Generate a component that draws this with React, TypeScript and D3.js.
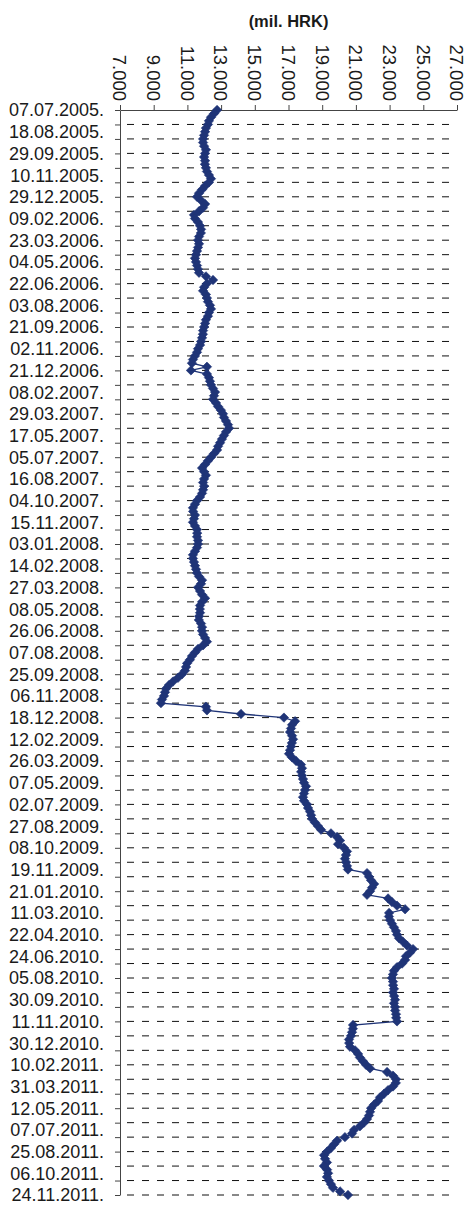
import React, { useRef, useEffect } from 'react';
import * as d3 from 'd3';

// every 6th auction date is labelled on the category axis
const dateLabels = [
  '07.07.2005.', '18.08.2005.', '29.09.2005.', '10.11.2005.', '29.12.2005.', '09.02.2006.',
  '23.03.2006.', '04.05.2006.', '22.06.2006.', '03.08.2006.', '21.09.2006.', '02.11.2006.',
  '21.12.2006.', '08.02.2007.', '29.03.2007.', '17.05.2007.', '05.07.2007.', '16.08.2007.',
  '04.10.2007.', '15.11.2007.', '03.01.2008.', '14.02.2008.', '27.03.2008.', '08.05.2008.',
  '26.06.2008.', '07.08.2008.', '25.09.2008.', '06.11.2008.', '18.12.2008.', '12.02.2009.',
  '26.03.2009.', '07.05.2009.', '02.07.2009.', '27.08.2009.', '08.10.2009.', '19.11.2009.',
  '21.01.2010.', '11.03.2010.', '22.04.2010.', '24.06.2010.', '05.08.2010.', '30.09.2010.',
  '11.11.2010.', '30.12.2010.', '10.02.2011.', '31.03.2011.', '12.05.2011.', '07.07.2011.',
  '25.08.2011.', '06.10.2011.', '24.11.2011.',
];
const labelEvery = 6;
const gridEvery = 4;

// mil. HRK, one value per auction
const values = [
  12760, 12580, 12400, 12280, 12220, 12100, 12050, 11990, 11930, 11930,
  11990, 12100, 12050, 11990, 12050, 12040, 12100, 12160, 12280, 12400,
  12280, 12050, 11870, 11690, 11570, 11810, 12050, 11930, 11690, 11390,
  11450, 11630, 11750, 11810, 11800, 11690, 11630, 11690, 11630, 11570,
  11510, 11450, 11510, 11570, 11630, 11690, 12100, 12520, 12160, 11990,
  11930, 12100, 12160, 12220, 12340, 12400, 12280, 12220, 12100, 12050,
  11990, 11930, 11920, 11870, 11810, 11750, 11630, 11570, 11450, 11330,
  11270, 12160, 11210, 12160, 12280, 12340, 12400, 12520, 12640, 12580,
  12520, 12700, 12820, 12990, 13110, 13170, 13290, 13410, 13470, 13290,
  13170, 13050, 12940, 12820, 12760, 12580, 12400, 12220, 12050, 11870,
  11990, 12100, 11990, 11930, 11990, 11930, 11870, 11750, 11570, 11450,
  11330, 11340, 11450, 11390, 11330, 11450, 11570, 11580, 11570, 11630,
  11630, 11570, 11450, 11330, 11330, 11390, 11450, 11510, 11570, 11690,
  11870, 11810, 11630, 11750, 11870, 12050, 11870, 11750, 11740, 11750,
  11690, 11680, 11810, 11870, 11860, 11930, 12050, 12160, 11930, 11630,
  11450, 11270, 11150, 10980, 10920, 10860, 10680, 10440, 10150, 9910,
  9730, 9670, 9610, 9490, 9430, 12100, 12160, 14180, 16730, 17390,
  17210, 17150, 17090, 17210, 17270, 17200, 17150, 17090, 17030, 17210,
  17450, 17740, 17800, 17750, 17800, 17860, 17920, 18040, 17980, 17920,
  17860, 17920, 18100, 18160, 18280, 18340, 18400, 18570, 18750, 18930,
  19520, 19880, 20060, 19940, 20290, 20470, 20410, 20350, 20420, 20470,
  20530, 21660, 21780, 21900, 22080, 21960, 21840, 21660, 22910, 23140,
  23440, 23920, 22970, 22960, 23030, 23140, 23260, 23380, 23440, 23560,
  23800, 24030, 24390, 24210, 23970, 23920, 23740, 23440, 23260, 23200,
  23140, 23200, 23210, 23260, 23200, 23270, 23320, 23260, 23320, 23330,
  23380, 23390, 23440, 20830, 20820, 20770, 20710, 20590, 20600, 20650,
  20950, 21130, 21240, 21420, 21600, 21840, 22850, 23200, 23380, 23370,
  23200, 22910, 22670, 22430, 22310, 22080, 21900, 21840, 21780, 21660,
  21480, 21240, 20890, 20770, 20350, 19880, 19700, 19520, 19290, 19110,
  19170, 19280, 19100, 19290, 19350, 19280, 19400, 19520, 19640, 20060,
  20530,
];

const xTicks = [7000, 9000, 11000, 13000, 15000, 17000, 19000, 21000, 23000, 25000, 27000];
const title = '(mil. HRK)';

const hr = d3.formatLocale({ decimal: ',', thousands: '.', grouping: [3], currency: ['', ''] });
const fmt = hr.format(',');

const App = () => {
  const ref = useRef<SVGSVGElement>(null);

  useEffect(() => {
    document.body.style.margin = '0';
    const svg = d3.select(ref.current);
    svg.selectAll('*').remove();

    const width = 475;
    const height = 1210;
    const margin = { top: 110, right: 18, bottom: 15, left: 120 };
    const font = '"Liberation Sans", Arial, sans-serif';
    const navy = '#1f3477';

    const x = d3.scaleLinear().domain([7000, 27000]).range([margin.left, width - margin.right]);
    const y = d3.scaleLinear().domain([0, values.length - 1]).range([margin.top, height - margin.bottom]);

    // dashed gridlines at the category tick marks
    svg.append('g')
      .selectAll('line')
      .data(d3.range(gridEvery, values.length, gridEvery))
      .join('line')
      .attr('x1', x(7000))
      .attr('x2', x(27000))
      .attr('y1', d => y(d))
      .attr('y2', d => y(d))
      .attr('stroke', '#111')
      .attr('stroke-width', 1)
      .attr('stroke-dasharray', '7 8')
      .attr('stroke-dashoffset', 8);

    // value axis on top
    const top = svg.append('g')
      .attr('transform', `translate(0,${margin.top})`)
      .call(d3.axisTop(x).tickValues(xTicks).tickSize(5).tickSizeOuter(0).tickFormat(() => ''));
    top.selectAll('path,line').attr('stroke', '#444');

    svg.append('g')
      .selectAll('text')
      .data(xTicks)
      .join('text')
      .attr('transform', d => `translate(${x(d)},101) rotate(90)`)
      .attr('text-anchor', 'end')
      .attr('dy', '0.36em')
      .attr('font-family', font)
      .attr('font-size', 18.5)
      .attr('fill', '#1a1a1a')
      .text(d => fmt(d));

    // category axis on the left
    const left = svg.append('g')
      .attr('transform', `translate(${margin.left},0)`)
      .call(d3.axisLeft(y).tickValues(d3.range(0, values.length, gridEvery)).tickSize(5).tickSizeOuter(0).tickFormat(() => ''));
    left.selectAll('path,line').attr('stroke', '#444');

    svg.append('g')
      .selectAll('text')
      .data(dateLabels)
      .join('text')
      .attr('x', 104)
      .attr('y', (d, i) => y(i * labelEvery))
      .attr('dy', '0.36em')
      .attr('text-anchor', 'end')
      .attr('font-family', font)
      .attr('font-size', 18)
      .attr('fill', '#1a1a1a')
      .text(d => d);

    // series
    const line = d3.line<number>().x(d => x(d)).y((d, i) => y(i));
    svg.append('path')
      .datum(values)
      .attr('d', line)
      .attr('fill', 'none')
      .attr('stroke', navy)
      .attr('stroke-width', 1.3);

    svg.append('g')
      .selectAll('path')
      .data(values)
      .join('path')
      .attr('d', d3.symbol(d3.symbolSquare, 44)())
      .attr('transform', (d, i) => `translate(${x(d)},${y(i)}) rotate(45)`)
      .attr('fill', navy)
      .attr('stroke', navy)
      .attr('stroke-width', 0.6);

    svg.append('text')
      .attr('x', (x(7000) + x(27000)) / 2)
      .attr('y', 27)
      .attr('text-anchor', 'middle')
      .attr('font-family', font)
      .attr('font-weight', 'bold')
      .attr('font-size', 16.5)
      .attr('fill', '#1a1a1a')
      .text(title);
  }, []);

  return (
    <svg ref={ref} width={475} height={1210} style={{ position: 'absolute', left: 0, top: 0, background: '#fff' }} />
  );
};

export default App;
